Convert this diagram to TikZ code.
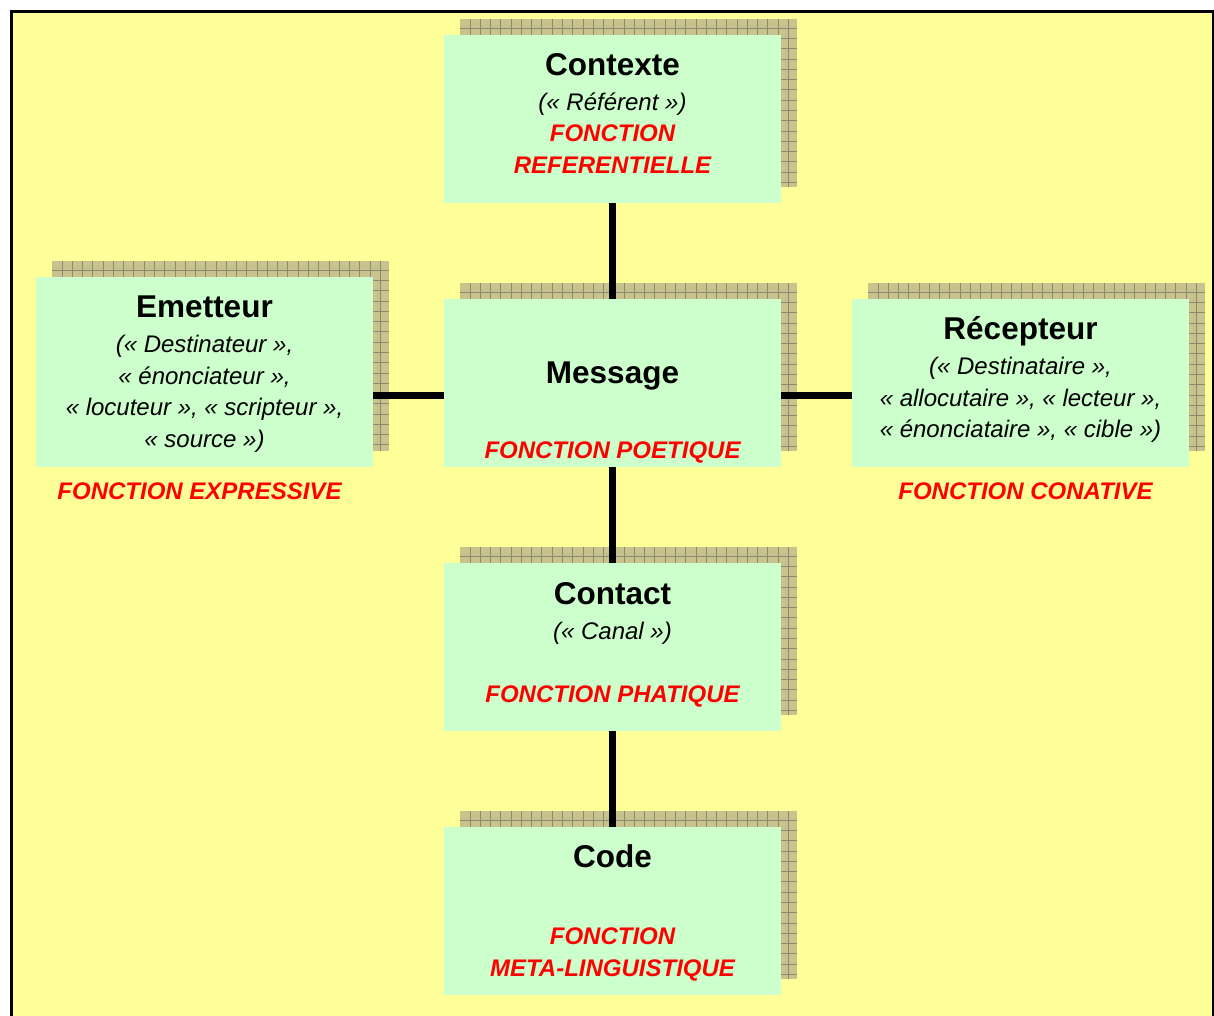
\documentclass[tikz,border=0pt]{standalone}
\usepackage{fontspec}
\setmainfont{Liberation Sans}

\definecolor{bgyellow}{RGB}{255,255,153}
\definecolor{boxgreen}{RGB}{204,255,204}
\definecolor{shadowkhaki}{RGB}{200,195,140}
\definecolor{shadowgrid}{RGB}{140,138,115}
\definecolor{fnred}{RGB}{255,0,0}

% Hatched drop shadow: khaki fill crossed by a fine grey grid
\newcommand\gridshadow[4]{%
  \fill[shadowkhaki] (#1,#2) rectangle ++(#3,#4);
  \begin{scope}
    \clip (#1,#2) rectangle ++(#3,#4);
    \foreach \k in {0,...,33} {
      \draw[shadowgrid,line width=0.9pt] ({#1+10+10.27*\k},#2) -- ++(0,#4);
    }
    \foreach \k in {0,...,19} {
      \draw[shadowgrid,line width=0.9pt] (#1,{#2+9.3+10.27*\k}) -- ++(#3,0);
    }
  \end{scope}
}

\tikzset{
  factor/.style={fill=boxgreen, draw=none, inner sep=0pt, anchor=north west,
                 minimum width=337pt},
  title/.style={anchor=base, inner sep=0pt, font=\fontsize{31.5}{36}\selectfont\bfseries},
  sub/.style={anchor=base, inner sep=0pt, font=\fontsize{24}{28}\selectfont\itshape},
  fn/.style={anchor=base, inner sep=0pt, text=fnred,
             font=\fontsize{24}{28}\selectfont\bfseries\itshape},
  link/.style={line width=7pt, black}
}

\begin{document}
\begin{tikzpicture}[x=1pt,y=-1pt]
  \useasboundingbox (0,0) rectangle (1214,1016);
  \fill[white] (0,0) rectangle (1214,1016);

  % framed yellow panel (open at the bottom)
  \fill[bgyellow] (11.5,11.5) rectangle (1213.5,1030);
  \draw[line width=3pt] (11.5,1030) -- (11.5,11.5) -- (1213.5,11.5) -- (1213.5,1030);

  % shadows
  \gridshadow{460}{19}{337}{168}
  \gridshadow{52}{261}{337}{190}
  \gridshadow{460}{283}{337}{168}
  \gridshadow{868}{283}{337}{168}
  \gridshadow{460}{547}{337}{168}
  \gridshadow{460}{811}{337}{168}

  % boxes
  \node[factor, minimum height=168pt] (ctx) at (444,35) {};
  \node[factor, minimum height=190pt] (emt) at (36,277) {};
  \node[factor, minimum height=168pt] (msg) at (444,299) {};
  \node[factor, minimum height=168pt] (rec) at (852,299) {};
  \node[factor, minimum height=168pt] (cnt) at (444,563) {};
  \node[factor, minimum height=168pt] (cod) at (444,827) {};

  % connectors
  \coordinate (hline) at (0,395.5);
  \draw[link] (ctx.south) -- (msg.north);
  \draw[link] (msg.south) -- (cnt.north);
  \draw[link] (cnt.south) -- (cod.north);
  \draw[link] (emt.east |- hline) -- (msg.west |- hline);
  \draw[link] (msg.east |- hline) -- (rec.west |- hline);

  % Contexte
  \node[title] (ctxT) at (612.5,75.5) {Contexte};
  \node[sub]   (ctxS) at (612.5,110.5) {(« Référent »)};
  \node[fn]    (ctxF1) at (612.5,142) {FONCTION};
  \node[fn]    (ctxF2) at (612.5,174) {REFERENTIELLE};

  % Emetteur
  \node[title] (emtT) at (204.5,317.5) {Emetteur};
  \node[sub]   (emtS1) at (204.5,352.5) {(« Destinateur »,};
  \node[sub]   (emtS2) at (204.5,384.5) {« énonciateur »,};
  \node[sub]   (emtS3) at (204.5,415.5) {« locuteur », « scripteur »,};
  \node[sub]   (emtS4) at (204.5,447.5) {« source »)};
  \node[fn]    (emtF) at (199.5,499.5) {FONCTION EXPRESSIVE};

  % Message
  \node[title] (msgT) at (612.5,383) {Message};
  \node[fn]    (msgF) at (612.5,458.5) {FONCTION POETIQUE};

  % Récepteur
  \node[title] (recT) at (1020.5,339.5) {Récepteur};
  \node[sub]   (recS1) at (1020.5,374.5) {(« Destinataire »,};
  \node[sub]   (recS2) at (1020.5,406) {« allocutaire », « lecteur »,};
  \node[sub]   (recS3) at (1020.5,437.5) {« énonciataire », « cible »)};
  \node[fn]    (recF) at (1025.5,499.5) {FONCTION CONATIVE};

  % Contact
  \node[title] (cntT) at (612.5,604) {Contact};
  \node[sub]   (cntS) at (612.5,639) {(« Canal »)};
  \node[fn]    (cntF) at (612.5,702.5) {FONCTION PHATIQUE};

  % Code
  \node[title] (codT) at (612.5,867.5) {Code};
  \node[fn]    (codF1) at (612.5,944) {FONCTION};
  \node[fn]    (codF2) at (612.5,976) {META-LINGUISTIQUE};
\end{tikzpicture}
\end{document}
